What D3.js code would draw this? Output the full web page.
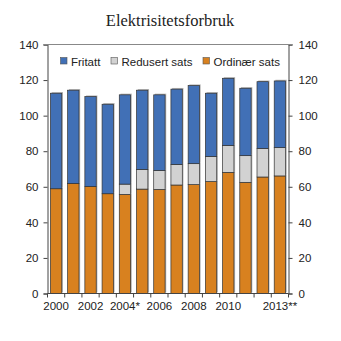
<!DOCTYPE html>
<html>
<head>
<meta charset="utf-8">
<script src="https://cdn.jsdelivr.net/npm/d3@7"></script>
<style>
  html, body { margin: 0; padding: 0; background: #fff; }
  svg { display: block; }
</style>
</head>
<body>
<div id="chart"></div>
<script>
// Electricity consumption by tax class (TWh), stacked per year
const years = ["2000","2001","2002","2003","2004*","2005","2006","2007","2008","2009","2010","2011","2012","2013**"];
const shownYears = ["2000","2002","2004*","2006","2008","2010","2013**"];
const ordinaer = [58.9, 61.9, 60.2, 56.1, 55.7, 58.7, 58.5, 61.0, 61.2, 62.9, 68.1, 62.5, 65.5, 66.1];
const redusert = [0, 0, 0, 0, 5.8, 11.1, 10.7, 11.6, 11.8, 14.2, 15.2, 15.0, 16.1, 15.9];
const fritatt  = [53.7, 52.4, 50.5, 50.3, 50.2, 44.5, 42.5, 42.3, 43.9, 35.5, 37.7, 37.9, 37.5, 37.5];
const yTicks = [0, 20, 40, 60, 80, 100, 120, 140];

const seriesKeys = ["ordinaer", "redusert", "fritatt"];
const seriesNames = { fritatt: "Fritatt", redusert: "Redusert sats", ordinaer: "Ordinær sats" };
const colors = { fritatt: "#4170B6", redusert: "#D2D2D2", ordinaer: "#D8811F" };
const legendOrder = ["fritatt", "redusert", "ordinaer"];

const W = 341, H = 341;
const plotL = 47.5, plotR = 288.5, plotT = 44.5, plotB = 293.5;

const rows = years.map((yr, i) => ({ year: yr, ordinaer: ordinaer[i], redusert: redusert[i], fritatt: fritatt[i] }));
const stacked = d3.stack().keys(seriesKeys)(rows);

const svg = d3.select("#chart").append("svg").attr("width", W).attr("height", H);

const x = d3.scaleBand().domain(years).range([plotL, plotR]).paddingInner(0.34).paddingOuter(0.17);
const y = d3.scaleLinear().domain([0, 140]).range([plotB, plotT]);

// Title
svg.append("text")
  .attr("x", 170).attr("y", 26)
  .attr("text-anchor", "middle")
  .attr("font-family", "'Liberation Serif', 'Times New Roman', serif")
  .attr("font-size", 16.5)
  .attr("fill", "#222")
  .text("Elektrisitetsforbruk");

// Bars with soft shadow and dark outline
const layer = svg.append("g").selectAll("g").data(stacked).join("g");
layer.selectAll("rect.shadow")
  .data(d => d.map(p => ({ p, key: d.key })).filter(o => o.p[1] - o.p[0] > 0))
  .join("rect")
  .attr("class", "shadow")
  .attr("x", o => x(o.p.data.year) + 1.2)
  .attr("y", o => y(o.p[1]) - 1.2)
  .attr("width", x.bandwidth())
  .attr("height", o => y(o.p[0]) - y(o.p[1]))
  .attr("fill", "#b8b8b8");

layer.selectAll("rect.bar")
  .data(d => d.map(p => ({ p, key: d.key })).filter(o => o.p[1] - o.p[0] > 0))
  .join("rect")
  .attr("class", "bar")
  .attr("x", o => x(o.p.data.year))
  .attr("y", o => y(o.p[1]))
  .attr("width", x.bandwidth())
  .attr("height", o => y(o.p[0]) - y(o.p[1]))
  .attr("fill", o => colors[o.key])
  .attr("stroke", "#333")
  .attr("stroke-width", 0.7);

const axisFont = "'Liberation Sans', Arial, sans-serif";
const axisColor = "#444";

// Left axis
const yLeft = svg.append("g").attr("transform", `translate(${plotL},0)`)
  .call(d3.axisLeft(y).tickValues(yTicks).tickSize(4).tickPadding(5));
// Right axis
const yRight = svg.append("g").attr("transform", `translate(${plotR},0)`)
  .call(d3.axisRight(y).tickValues(yTicks).tickSize(4).tickPadding(6));
// Bottom axis: labels on selected years
const xAxis = svg.append("g").attr("transform", `translate(0,${plotB})`)
  .call(d3.axisBottom(x).tickValues(shownYears).tickSize(0).tickPadding(8));

[yLeft, yRight, xAxis].forEach(g => {
  g.selectAll("path.domain").attr("stroke", axisColor).attr("stroke-width", 1);
  g.selectAll("line").attr("stroke", axisColor);
  g.selectAll("text").attr("font-family", axisFont).attr("font-size", 11.5).attr("fill", "#222");
});
xAxis.select("path.domain").remove();

// Baseline and top frame line
svg.append("line").attr("x1", plotL).attr("x2", plotR).attr("y1", plotB).attr("y2", plotB)
  .attr("stroke", axisColor);
svg.append("line").attr("x1", plotL - 4).attr("x2", plotR + 4).attr("y1", plotT).attr("y2", plotT)
  .attr("stroke", "#888");

// Category boundary ticks under the baseline
const step = x.step();
const bounds = d3.range(years.length + 1).map(i => plotL + i * step);
svg.append("g").selectAll("line").data(bounds).join("line")
  .attr("x1", d => d).attr("x2", d => d)
  .attr("y1", plotB).attr("y2", plotB + 4)
  .attr("stroke", axisColor);

// Legend
const legendX = { fritatt: 60.5, redusert: 111, ordinaer: 203 };
const lg = svg.append("g");
legendOrder.forEach(k => {
  lg.append("rect")
    .attr("x", legendX[k]).attr("y", 57.5)
    .attr("width", 6.5).attr("height", 6.5)
    .attr("fill", colors[k]).attr("stroke", "#555").attr("stroke-width", 0.6);
  lg.append("text")
    .attr("x", legendX[k] + 10.5).attr("y", 65.5)
    .attr("font-family", axisFont).attr("font-size", 11.5).attr("fill", "#222")
    .text(seriesNames[k]);
});
</script>
</body>
</html>
